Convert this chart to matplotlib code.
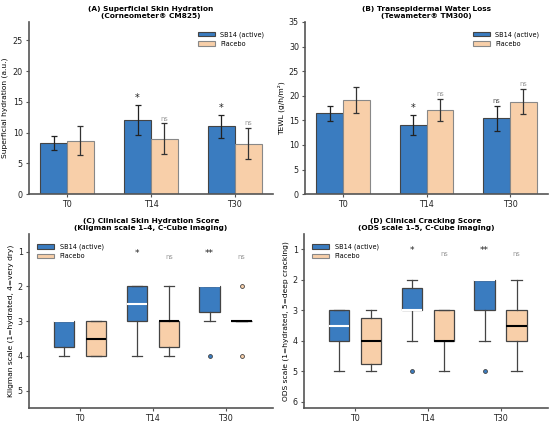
import matplotlib
matplotlib.use('Agg')
import matplotlib.pyplot as plt
import numpy as np

# ---------------- data ----------------
times = ['T0', 'T14', 'T30']

# (A) superficial hydration, mean and sd
hyd_sb14 = [8.3, 12.1, 11.0]
hyd_sb14_sd = [1.15, 2.45, 1.9]
hyd_plac = [8.7, 9.0, 8.2]
hyd_plac_sd = [2.4, 2.5, 2.5]
hyd_sig_sb14 = ['', '*', '*']
hyd_sig_plac = ['', 'ns', 'ns']

# (B) TEWL, mean and sd
tewl_sb14 = [16.4, 14.0, 15.4]
tewl_sb14_sd = [1.5, 2.0, 2.6]
tewl_plac = [19.1, 17.1, 18.8]
tewl_plac_sd = [2.7, 2.2, 2.5]
tewl_sig_sb14 = ['', '*', 'ns']
tewl_sig_plac = ['', 'ns', 'ns']

# (C) Kligman score box stats: whislo, q1, med, q3, whishi, fliers
klig_sb14 = {'whislo': [3, 2, 2], 'q1': [3, 2, 2], 'med': [3, 2.5, 2],
             'q3': [3.75, 3, 2.75], 'whishi': [4, 4, 3], 'fliers': [[], [], [4]]}
klig_plac = {'whislo': [3, 2, 3], 'q1': [3, 3, 3], 'med': [3.5, 3, 3],
             'q3': [4, 3.75, 3], 'whishi': [4, 4, 3], 'fliers': [[], [], [2, 4]]}
klig_sig_sb14 = ['', '*', '**']
klig_sig_plac = ['', 'ns', 'ns']

# (D) ODS score box stats
ods_sb14 = {'whislo': [3, 2, 2], 'q1': [3, 2.25, 2], 'med': [3.5, 3, 2],
            'q3': [4, 3, 3], 'whishi': [5, 4, 4], 'fliers': [[], [5], [5]]}
ods_plac = {'whislo': [3, 3, 2], 'q1': [3.25, 3, 3], 'med': [4, 4, 3.5],
            'q3': [4.75, 4, 4], 'whishi': [5, 5, 5], 'fliers': [[], [], []]}
ods_sig_sb14 = ['', '*', '**']
ods_sig_plac = ['', 'ns', 'ns']

BLUE = '#3a7cc0'
PEACH = '#f8cfa9'
EDGE = '#444444'

plt.rcParams['font.family'] = ['DejaVu Sans']
fig = plt.figure(figsize=(5.5, 4.22), dpi=100)

axA = fig.add_axes([0.053, 0.54, 0.443, 0.408])
axB = fig.add_axes([0.555, 0.54, 0.441, 0.408])
axC = fig.add_axes([0.053, 0.033, 0.443, 0.412])
axD = fig.add_axes([0.553, 0.033, 0.443, 0.412])


def bar_panel(ax, m1, s1, m2, s2, sig1, sig2, ylim, ylabel, title, gap):
    x = np.arange(len(times))
    w = 0.32
    ax.bar(x - w / 2, m1, w, yerr=s1, color=BLUE, edgecolor=EDGE, linewidth=0.8,
           capsize=2.5, error_kw={'elinewidth': 0.9, 'capthick': 0.9, 'ecolor': '#222222'},
           label='SB14 (active)')
    ax.bar(x + w / 2, m2, w, yerr=s2, color=PEACH, edgecolor='#888888', linewidth=0.8,
           capsize=2.5, error_kw={'elinewidth': 0.9, 'capthick': 0.9, 'ecolor': '#333333'},
           label='Placebo')
    for i in range(len(times)):
        if sig1[i]:
            star = sig1[i] != 'ns'
            ax.text(x[i] - w / 2, m1[i] + s1[i] + gap, sig1[i], ha='center', va='bottom',
                    fontsize=7 if star else 4.8, color='#222222' if star else '#555555')
        if sig2[i]:
            ax.text(x[i] + w / 2, m2[i] + s2[i] + gap, sig2[i], ha='center', va='bottom',
                    fontsize=4.8, color='#999999')
    ax.set_xticks(x)
    ax.set_xticklabels(times)
    ax.set_ylim(*ylim)
    ax.set_ylabel(ylabel, fontsize=5.4, labelpad=3)
    ax.set_title(title, fontsize=5.3, fontweight='bold', pad=3)
    ax.legend(loc='upper right', frameon=False, fontsize=4.7, handlelength=2.6,
              bbox_to_anchor=(0.99, 0.98))


def box_panel(ax, st1, st2, sig1, sig2, ylim, ylabel, title):
    x = np.arange(len(times))
    off = 0.22
    for st, color, medc, dx in [(st1, BLUE, 'white', -off), (st2, PEACH, 'black', off)]:
        stats = []
        for i in range(len(times)):
            stats.append({'whislo': st['whislo'][i], 'q1': st['q1'][i], 'med': st['med'][i],
                          'q3': st['q3'][i], 'whishi': st['whishi'][i], 'fliers': st['fliers'][i]})
        ax.bxp(stats, positions=x + dx, widths=0.28, patch_artist=True,
               boxprops={'facecolor': color, 'edgecolor': EDGE, 'linewidth': 0.9},
               medianprops={'color': medc, 'linewidth': 1.5},
               whiskerprops={'color': EDGE, 'linewidth': 0.9},
               capprops={'color': EDGE, 'linewidth': 0.9},
               flierprops={'marker': 'o', 'markerfacecolor': color, 'markeredgecolor': EDGE,
                           'markersize': 2.8, 'markeredgewidth': 0.6})
    for i in range(len(times)):
        if sig1[i]:
            ax.text(x[i] - off, 1.05, sig1[i], ha='center', va='center', fontsize=6.5, color='#222222')
        if sig2[i]:
            ax.text(x[i] + off, 1.15, sig2[i], ha='center', va='center', fontsize=4.8, color='#999999')
    ax.set_xticks(x)
    ax.set_xticklabels(times)
    ax.set_xlim(-0.7, 2.65)
    ax.set_ylim(*ylim)
    ax.set_ylabel(ylabel, fontsize=5.4, labelpad=3)
    ax.set_title(title, fontsize=5.3, fontweight='bold', pad=3)
    ax.legend(handles=[plt.Rectangle((0, 0), 1, 1, facecolor=BLUE, edgecolor=EDGE, linewidth=0.8),
                       plt.Rectangle((0, 0), 1, 1, facecolor=PEACH, edgecolor='#888888', linewidth=0.8)],
              labels=['SB14 (active)', 'Placebo'], loc='upper left', frameon=False,
              fontsize=4.7, handlelength=2.6, bbox_to_anchor=(0.01, 0.98))


bar_panel(axA, hyd_sb14, hyd_sb14_sd, hyd_plac, hyd_plac_sd, hyd_sig_sb14, hyd_sig_plac,
          (0, 28), 'Superficial hydration (a.u.)',
          '(A) Superficial Skin Hydration\n(Corneometer\u00ae CM825)', 0.3)
bar_panel(axB, tewl_sb14, tewl_sb14_sd, tewl_plac, tewl_plac_sd, tewl_sig_sb14, tewl_sig_plac,
          (0, 35), 'TEWL (g/h/m\u00b2)',
          '(B) Transepidermal Water Loss\n(Tewameter\u00ae TM300)', 0.4)
box_panel(axC, klig_sb14, klig_plac, klig_sig_sb14, klig_sig_plac, (5.5, 0.5),
          'Kligman scale (1=hydrated, 4=very dry)',
          '(C) Clinical Skin Hydration Score\n(Kligman scale 1\u20134, C-Cube imaging)')
box_panel(axD, ods_sb14, ods_plac, ods_sig_sb14, ods_sig_plac, (6.2, 0.5),
          'ODS scale (1=hydrated, 5=deep cracking)',
          '(D) Clinical Cracking Score\n(ODS scale 1\u20135, C-Cube imaging)')
axC.set_yticks([1, 2, 3, 4, 5])
axD.set_yticks([1, 2, 3, 4, 5, 6])

for ax in [axA, axB, axC, axD]:
    ax.spines['top'].set_visible(False)
    ax.spines['right'].set_visible(False)
    ax.spines['left'].set_color('#555555')
    ax.spines['bottom'].set_color('#555555')
    ax.spines['left'].set_linewidth(1.2)
    ax.spines['bottom'].set_linewidth(1.2)
    ax.tick_params(labelsize=5.8, length=2.5, width=0.8, pad=2, colors='#222222')
    ax.tick_params(axis='both', color='#555555')

fig.savefig('out.png', dpi=100)
